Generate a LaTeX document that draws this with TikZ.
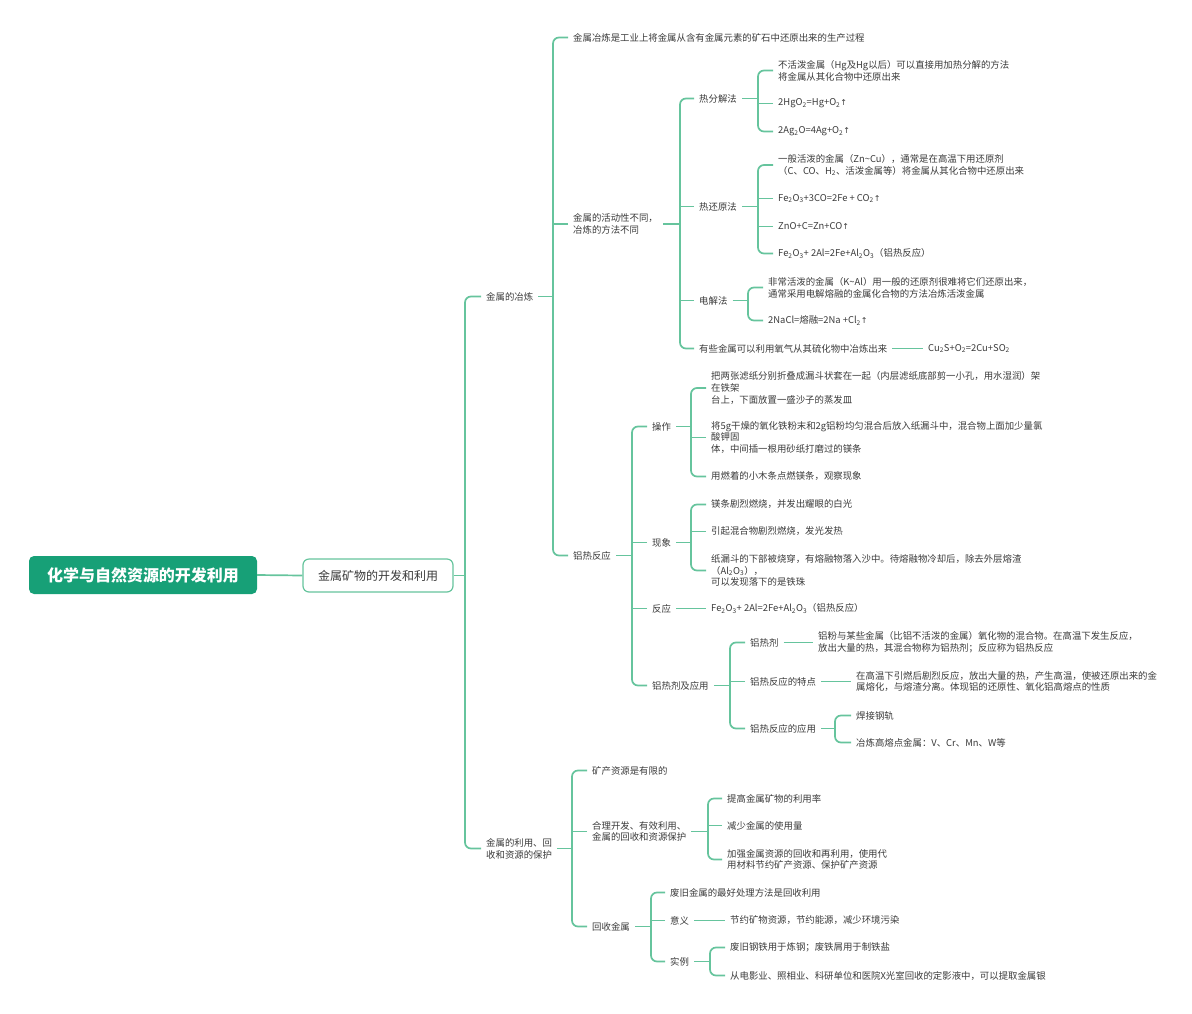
\documentclass[tikz,border=0pt]{standalone}
\usepackage{fontspec}
\setmainfont{Noto Sans CJK SC}
\newfontfamily\arrfont{DejaVu Sans}
\definecolor{lncol}{HTML}{66C49D}
\definecolor{rootg}{HTML}{17A077}
\definecolor{tx}{HTML}{3A3A3A}
\newcommand\sbs[1]{\textsubscript{#1}}
\newcommand\up{{\arrfont\fontsize{8}{10}\selectfont ↑}}
\tikzset{
  every node/.style={font=\fontsize{9.4}{11.8}\selectfont, text=tx},
  t/.style={anchor=west, inner xsep=5pt, inner ysep=1pt, align=left},
  ln/.style={draw=lncol, line width=1.7pt},
  rootbox/.style={fill=rootg, rounded corners=5pt, minimum width=228pt, minimum height=38pt,
    font=\fontsize{16}{18}\selectfont\bfseries, text=white},
  subbox/.style={draw=lncol, line width=1.2pt, fill=white, rounded corners=6pt, minimum width=150pt,
    minimum height=33pt, font=\fontsize{12}{14}\selectfont},
}
\newcommand\fork[4]{%
  \draw[ln] (#1.east) -- (#2,0 |- #1.east);
  \draw[ln,rounded corners=6pt] (#3.west) -| (#2,0 |- #1.east) |- (#4.west);}
\newcommand\tick[2]{\draw[ln] (#2.west) -- (#1,0 |- #2.west);}
\newcommand\link[2]{\draw[ln] (#1.east) -- (#2.west);}
\begin{document}
\begin{tikzpicture}[x=1pt,y=-1pt]
\useasboundingbox (0,0) rectangle (1192,1013);
\node[rootbox] (r) at (143,575) {化学与自然资源的开发利用};
\node[subbox] (n2) at (378,575.5) {金属矿物的开发和利用};
\link{r}{n2}

\node[t] (a) at (481,296.5) {金属的冶炼};
\node[t] (b) at (481,848.5) {金属的利用、回\\收和资源的保护};
\fork{n2}{465}{a}{b}

% 金属的冶炼
\node[t] (a1) at (568,37.5) {金属冶炼是工业上将金属从含有金属元素的矿石中还原出来的生产过程};
\node[t] (a2) at (568,224) {金属的活动性不同，\\冶炼的方法不同};
\node[t] (a3) at (568,555.5) {铝热反应};
\fork{a}{553}{a1}{a3}
\tick{553}{a2}

\node[t] (m1) at (694,98.5) {热分解法};
\node[t] (m2) at (694,206.5) {热还原法};
\node[t] (m3) at (694,300.5) {电解法};
\node[t] (m4) at (694,348.5) {有些金属可以利用氧气从其硫化物中冶炼出来};
\node[t] (m4x) at (923,348.5) {Cu\sbs{2}S+O\sbs{2}=2Cu+SO\sbs{2}};
\fork{a2}{680}{m1}{m4}
\tick{680}{m2}
\tick{680}{m3}
\link{m4}{m4x}

\node[t] (m11) at (773,70.5) {不活泼金属（Hg及Hg以后）可以直接用加热分解的方法\\将金属从其化合物中还原出来};
\node[t] (m12) at (773,103.5) {2HgO\sbs{2}=Hg+O\sbs{2}\up};
\node[t] (m13) at (773,131.5) {2Ag\sbs{2}O=4Ag+O\sbs{2}\up};
\fork{m1}{758}{m11}{m13}
\tick{758}{m12}

\node[t] (m21) at (773,165) {一般活泼的金属（Zn\textasciitilde Cu），通常是在高温下用还原剂\\（C、CO、H\sbs{2}、活泼金属等）将金属从其化合物中还原出来};
\node[t] (m22) at (773,198.5) {Fe\sbs{2}O\sbs{3}+3CO=2Fe + CO\sbs{2}\up};
\node[t] (m23) at (773,226.5) {ZnO+C=Zn+CO\up};
\node[t] (m24) at (773,253.5) {Fe\sbs{2}O\sbs{3}+ 2Al=2Fe+Al\sbs{2}O\sbs{3}（铝热反应）};
\fork{m2}{758}{m21}{m24}
\tick{758}{m22}
\tick{758}{m23}

\node[t] (m31) at (763,287.5) {非常活泼的金属（K\textasciitilde Al）用一般的还原剂很难将它们还原出来，\\通常采用电解熔融的金属化合物的方法冶炼活泼金属};
\node[t] (m32) at (763,320.5) {2NaCl=熔融=2Na +Cl\sbs{2}\up};
\fork{m3}{748}{m31}{m32}

% 铝热反应
\node[t] (l1) at (647,426.5) {操作};
\node[t] (l2) at (647,542.5) {现象};
\node[t] (l3) at (647,608.5) {反应};
\node[t] (l4) at (647,685.5) {铝热剂及应用};
\fork{a3}{632}{l1}{l4}
\tick{632}{l2}
\tick{632}{l3}

\node[t] (l11) at (706,388) {把两张滤纸分别折叠成漏斗状套在一起（内层滤纸底部剪一小孔，用水湿润）架\\在铁架\\台上，下面放置一盛沙子的蒸发皿};
\node[t] (l12) at (706,437.5) {将5g干燥的氧化铁粉末和2g铝粉均匀混合后放入纸漏斗中，混合物上面加少量氯\\酸钾固\\体，中间插一根用砂纸打磨过的镁条};
\node[t] (l13) at (706,476.5) {用燃着的小木条点燃镁条，观察现象};
\fork{l1}{691}{l11}{l13}
\tick{691}{l12}

\node[t] (l21) at (706,504.5) {镁条剧烈燃烧，并发出耀眼的白光};
\node[t] (l22) at (706,531.5) {引起混合物剧烈燃烧，发光发热};
\node[t] (l23) at (706,570.5) {纸漏斗的下部被烧穿，有熔融物落入沙中。待熔融物冷却后，除去外层熔渣\\（Al\sbs{2}O\sbs{3}），\\可以发现落下的是铁珠};
\fork{l2}{691}{l21}{l23}
\tick{691}{l22}

\node[t] (l31) at (706,608.5) {Fe\sbs{2}O\sbs{3}+ 2Al=2Fe+Al\sbs{2}O\sbs{3}（铝热反应）};
\link{l3}{l31}

\node[t] (l41) at (745,642.5) {铝热剂};
\node[t] (l42) at (745,681.5) {铝热反应的特点};
\node[t] (l43) at (745,728.5) {铝热反应的应用};
\fork{l4}{730}{l41}{l43}
\tick{730}{l42}
\node[t] (l41x) at (813,642.5) {铝粉与某些金属（比铝不活泼的金属）氧化物的混合物。在高温下发生反应，\\放出大量的热，其混合物称为铝热剂；反应称为铝热反应};
\link{l41}{l41x}
\node[t] (l42x) at (851,681.5) {在高温下引燃后剧烈反应，放出大量的热，产生高温，使被还原出来的金\\属熔化，与熔渣分离。体现铝的还原性、氧化铝高熔点的性质};
\link{l42}{l42x}
\node[t] (l431) at (851,715.5) {焊接钢轨};
\node[t] (l432) at (851,742.5) {冶炼高熔点金属：V、Cr、Mn、W等};
\fork{l43}{835}{l431}{l432}

% 金属的利用
\node[t] (b1) at (587,770.5) {矿产资源是有限的};
\node[t] (b2) at (587,831.5) {合理开发、有效利用、\\金属的回收和资源保护};
\node[t] (b3) at (587,926.5) {回收金属};
\fork{b}{572}{b1}{b3}
\tick{572}{b2}

\node[t] (b21) at (722,798.5) {提高金属矿物的利用率};
\node[t] (b22) at (722,825.5) {减少金属的使用量};
\node[t] (b23) at (722,859.5) {加强金属资源的回收和再利用，使用代\\用材料节约矿产资源、保护矿产资源};
\fork{b2}{708}{b21}{b23}
\tick{708}{b22}

\node[t] (b31) at (665,892.5) {废旧金属的最好处理方法是回收利用};
\node[t] (b32) at (665,920.5) {意义};
\node[t] (b33) at (665,961.5) {实例};
\fork{b3}{651}{b31}{b33}
\tick{651}{b32}
\node[t] (b32x) at (725,920.5) {节约矿物资源，节约能源，减少环境污染};
\link{b32}{b32x}
\node[t] (b331) at (725,947.5) {废旧钢铁用于炼钢；废铁屑用于制铁盐};
\node[t] (b332) at (725,975.5) {从电影业、照相业、科研单位和医院X光室回收的定影液中，可以提取金属银};
\fork{b33}{710}{b331}{b332}
\end{tikzpicture}
\end{document}
